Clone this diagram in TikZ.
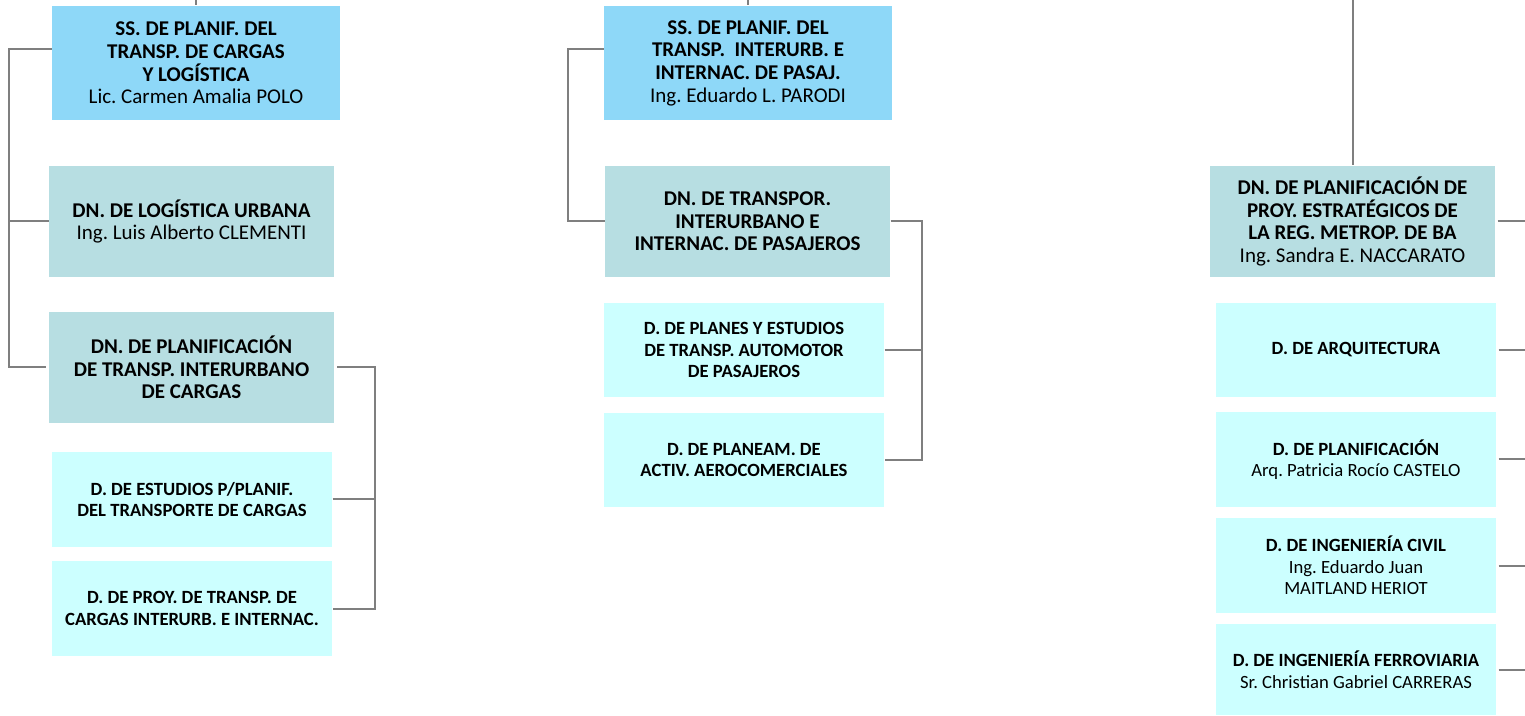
\documentclass[tikz,border=0pt]{standalone}
\usepackage{fontspec}
\setmainfont{Carlito}
\usetikzlibrary{calc}
\frenchspacing

\definecolor{ssblue}{HTML}{8ED8F8}
\definecolor{dnteal}{HTML}{B7DEE2}
\definecolor{dcyan}{HTML}{CCFFFF}
\definecolor{linkgray}{HTML}{7F7F7F}

\tikzset{every picture/.style={line width=0.75pt}}
\tikzset{
  ssbox/.style={fill=ssblue, draw=none, align=center, inner sep=0pt,
    minimum width=216pt, minimum height=85.5pt, font=\fontsize{15.75}{17}\selectfont},
  dnbox/.style={fill=dnteal, draw=none, align=center, inner sep=0pt,
    minimum width=213.75pt, minimum height=83.25pt, font=\fontsize{15.75}{17}\selectfont},
  dbox/.style={fill=dcyan, draw=none, align=center, inner sep=0pt,
    minimum width=210pt, minimum height=71pt, font=\fontsize{14}{16.2}\selectfont},
  link/.style={draw=linkgray, line width=1.5pt}
}

\begin{document}
\begin{tikzpicture}[x=0.75pt,y=0.75pt,yscale=-1,xscale=1]
\useasboundingbox (0,0) rectangle (1525,716);

%Left branch: cargas y logistica
\node [ssbox] (ss1) at (196,63) {\textbf{SS. DE PLANIF. DEL}\\\textbf{TRANSP. DE CARGAS}\\\textbf{Y LOGÍSTICA}\\Lic. Carmen Amalia POLO};
\node [dnbox] (dnlog) at (191.5,221.5) {\textbf{DN. DE LOGÍSTICA URBANA}\\Ing. Luis Alberto CLEMENTI};
\node [dnbox] (dnpc) at (191.5,367.5) {\textbf{DN. DE PLANIFICACIÓN}\\\textbf{DE TRANSP. INTERURBANO}\\\textbf{DE CARGAS}};
\node [dbox] (dest) at (192,499.5) {\textbf{D. DE ESTUDIOS P/PLANIF.}\\\textbf{DEL TRANSPORTE DE CARGAS}};
\node [dbox] (dproy) at (192,608.5) {\textbf{D. DE PROY. DE TRANSP. DE}\\\textbf{CARGAS INTERURB. E INTERNAC.}};

%Middle branch: pasajeros
\node [ssbox] (ss2) at (748,63) {\textbf{SS. DE PLANIF. DEL}\\\textbf{TRANSP.~ INTERURB. E}\\\textbf{INTERNAC. DE PASAJ.}\\Ing. Eduardo L. PARODI};
\node [dnbox] (dntip) at (747.5,221.5) {\textbf{DN. DE TRANSPOR.}\\\textbf{INTERURBANO E}\\\textbf{INTERNAC. DE PASAJEROS}};
\node [dbox] (dplanes) at (744,350) {\textbf{D. DE PLANES Y ESTUDIOS}\\\textbf{DE TRANSP. AUTOMOTOR}\\\textbf{DE PASAJEROS}};
\node [dbox] (dplaneam) at (744,460) {\textbf{D. DE PLANEAM. DE}\\\textbf{ACTIV. AEROCOMERCIALES}};

%Right branch: region metropolitana
\node [dnbox] (dnrmba) at (1352.5,221.5) {\textbf{DN. DE PLANIFICACIÓN DE}\\\textbf{PROY. ESTRATÉGICOS DE}\\\textbf{LA REG. METROP. DE BA}\\Ing. Sandra E. NACCARATO};
\node [dbox] (darq) at (1356,350) {\textbf{D. DE ARQUITECTURA}};
\node [dbox] (dplan) at (1356,459.5) {\textbf{D. DE PLANIFICACIÓN}\\Arq. Patricia Rocío CASTELO};
\node [dbox] (dciv) at (1356,565.5) {\textbf{D. DE INGENIERÍA CIVIL}\\Ing. Eduardo Juan\\MAITLAND HERIOT};
\node [dbox, minimum height=68.25pt] (dferr) at (1356,669.5) {\textbf{D. DE INGENIERÍA FERROVIARIA}\\Sr. Christian Gabriel CARRERAS};

%Free ends
\coordinate (top1) at (196,0);
\coordinate (top2) at (748,0);
\coordinate (top3) at (1352.5,0);
\coordinate (spine1) at (9,0);
\coordinate (spine2) at (568,0);
\coordinate (spine3) at (375,0);
\coordinate (spine4) at (922,0);
\coordinate (edge) at (1525,0);

%Connectors
\draw [link] (top1) -- (ss1.north);
\draw [link] (top2) -- (ss2.north);
\draw [link] (top3) -- (dnrmba.north);

\draw [link] ([yshift=-10.5pt]ss1.west) -| (spine1 |- dnpc.west) -- ([xshift=-2pt]dnpc.west);
\draw [link] (dnlog.west) -- (spine1 |- dnlog.west);
\draw [link] ([xshift=2pt]dnpc.east) -| (spine3 |- dproy.east) -- (dproy.east);
\draw [link] (dest.east) -- (spine3 |- dest.east);

\draw [link] ([yshift=-10.5pt]ss2.west) -| (spine2 |- dntip.west) -- (dntip.west);
\draw [link] (dntip.east) -| (spine4 |- dplaneam.east) -- (dplaneam.east);
\draw [link] (dplanes.east) -- (spine4 |- dplanes.east);

\foreach \n in {dnrmba,darq,dplan,dciv,dferr}
  \draw [link] ([xshift=1.5pt]\n.east) -- (edge |- \n.east);

\end{tikzpicture}
\end{document}
